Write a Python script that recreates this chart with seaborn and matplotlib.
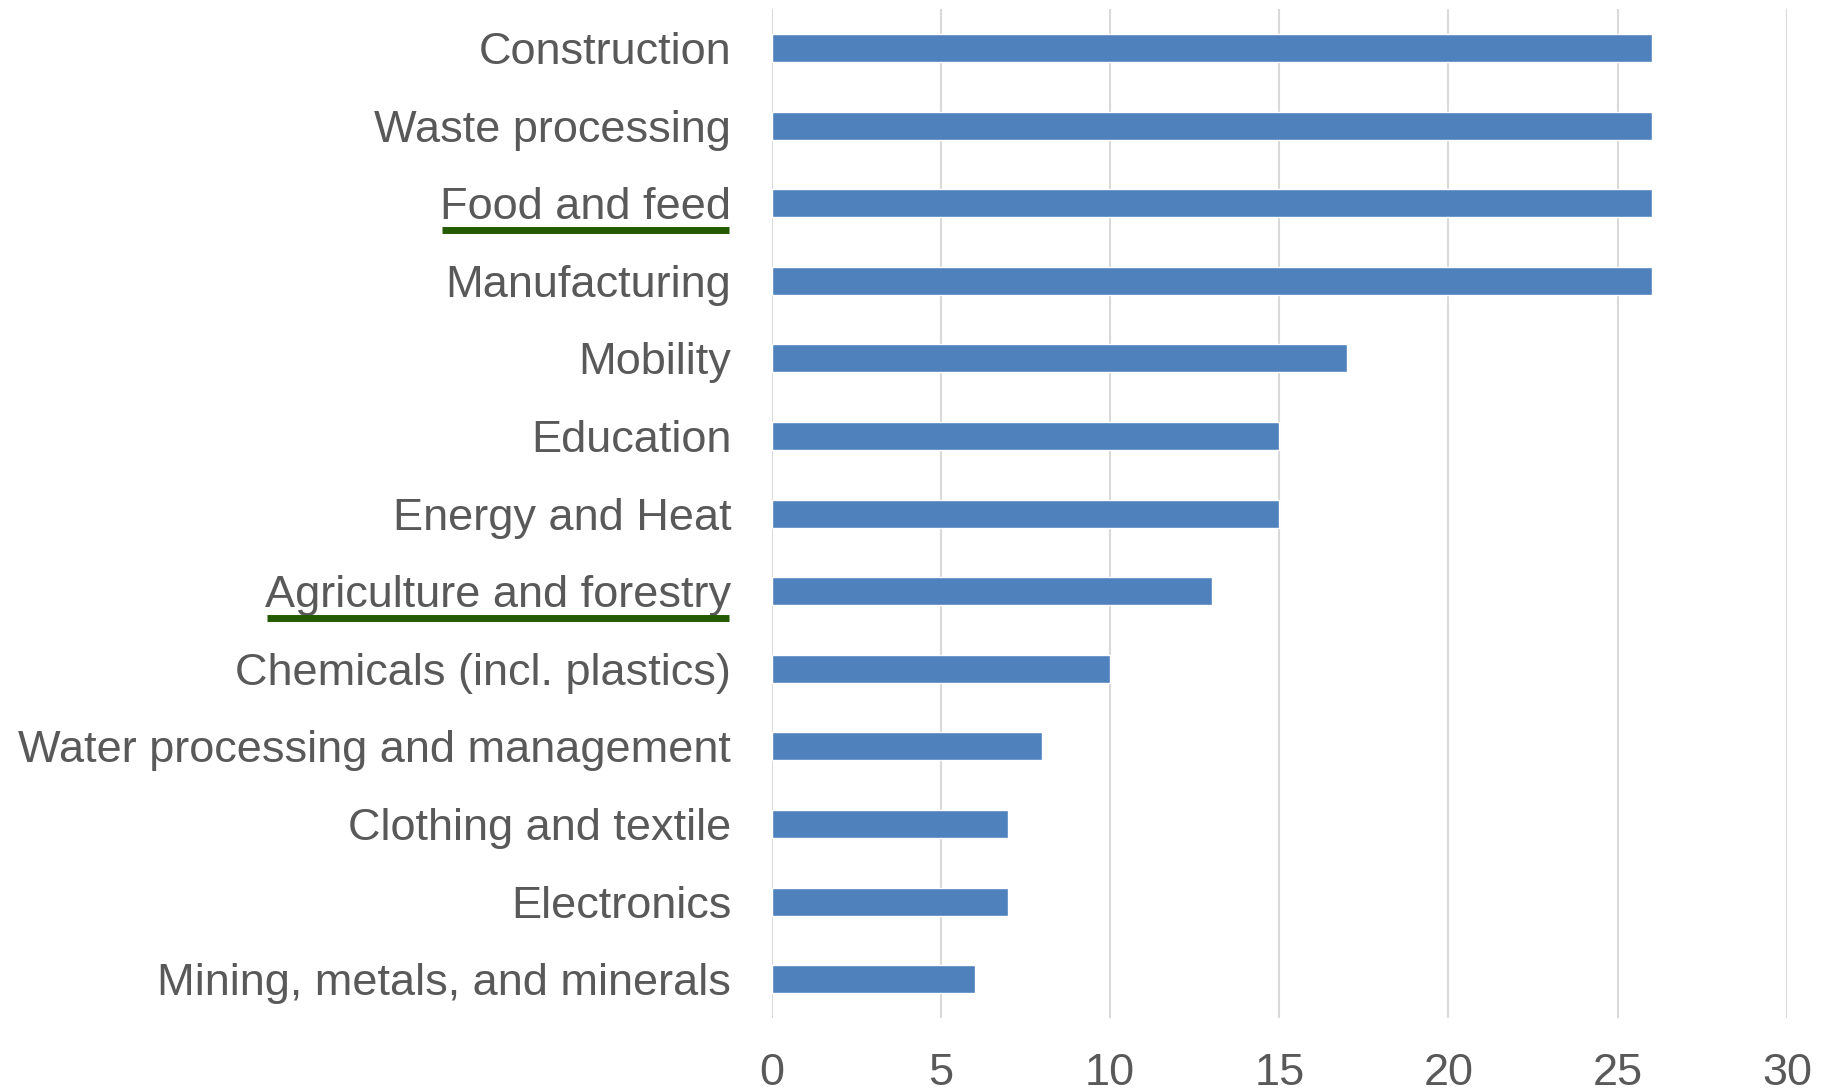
import matplotlib
matplotlib.use("Agg")
import matplotlib.pyplot as plt
from matplotlib.lines import Line2D
import seaborn as sns
import pandas as pd

sectors = [
    "Construction",
    "Waste processing",
    "Food and feed",
    "Manufacturing",
    "Mobility",
    "Education",
    "Energy and Heat",
    "Agriculture and forestry",
    "Chemicals (incl. plastics)",
    "Water processing and management",
    "Clothing and textile",
    "Electronics",
    "Mining, metals, and minerals",
]
counts = [26, 26, 26, 26, 17, 15, 15, 13, 10, 8, 7, 7, 6]
highlighted = ["Food and feed", "Agriculture and forestry"]
x_ticks = [0, 5, 10, 15, 20, 25, 30]

df = pd.DataFrame({"sector": sectors, "count": counts})

sns.set_theme(style="white")
plt.rcParams["font.family"] = ["Liberation Sans", "DejaVu Sans"]

text_color = "#595959"
bar_color = "#4F81BD"
grid_color = "#D9D9D9"
mark_color = "#245A00"

fig = plt.figure(figsize=(18.33, 10.91), dpi=100)
ax = fig.add_axes([0.4209, 0.0669, 0.554, 0.9247])

sns.barplot(data=df, x="count", y="sector", orient="h", color=bar_color,
            saturation=1, width=0.36, ax=ax, zorder=3)

ax.set_xlim(0, 30)
ax.set_ylim(len(sectors) - 0.5, -0.5)
ax.set_xticks(x_ticks)
ax.set_xticklabels([str(t) for t in x_ticks])
ax.xaxis.grid(True, color=grid_color, linewidth=1.5, zorder=0)
ax.yaxis.grid(False)
for s in ax.spines.values():
    s.set_visible(False)
ax.set_xlabel("")
ax.set_ylabel("")
ax.tick_params(axis="x", length=0, pad=25, labelsize=32.5, labelcolor=text_color)
ax.tick_params(axis="y", length=0, pad=29, labelsize=32.5, labelcolor=text_color)

# underline the highlighted sector labels
fig.canvas.draw()
renderer = fig.canvas.get_renderer()
for lbl in ax.get_yticklabels():
    if lbl.get_text() in highlighted:
        bb = lbl.get_window_extent(renderer)
        y = bb.y0 - 2
        fig.add_artist(Line2D([bb.x0 + 2, bb.x1 - 2], [y, y], transform=None,
                              color=mark_color, linewidth=5,
                              solid_capstyle="butt"))

fig.savefig("out.png", dpi=100)
